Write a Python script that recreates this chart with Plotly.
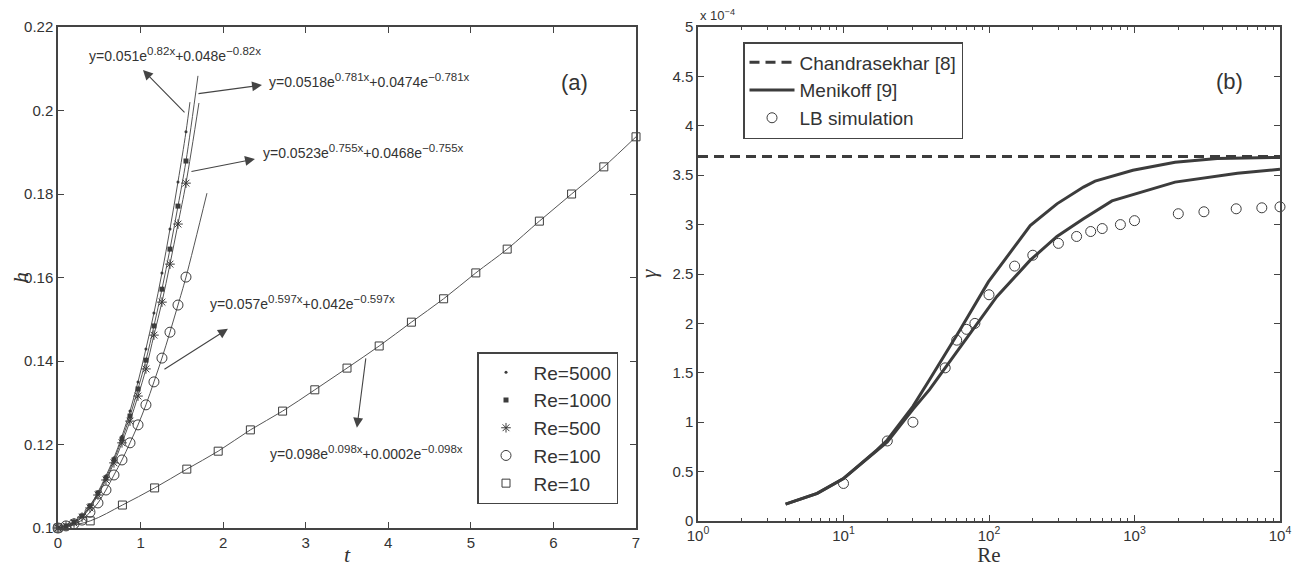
import plotly.graph_objects as go

# ---------------- Panel (a): h vs t ----------------
t_fast = [0, 0.097, 0.194, 0.291, 0.387, 0.484, 0.581, 0.678, 0.775, 0.872,
          0.969, 1.065, 1.162, 1.259, 1.356, 1.453, 1.55]
h_re5000 = [0.100, 0.1005, 0.1014, 0.1029, 0.1053, 0.1086, 0.1125, 0.1168, 0.1220,
            0.1280, 0.1350, 0.1429, 0.1515, 0.1611, 0.1716, 0.1829, 0.1949]
h_re1000 = [0.100, 0.1005, 0.1014, 0.1029, 0.1053, 0.1084, 0.1120, 0.1163, 0.1213,
            0.1268, 0.1333, 0.1402, 0.1484, 0.1572, 0.1668, 0.1771, 0.1879]
h_re500 = [0.100, 0.1005, 0.1012, 0.1026, 0.1048, 0.1079, 0.1115, 0.1156, 0.1204,
           0.1256, 0.1316, 0.1381, 0.1462, 0.1541, 0.1632, 0.1728, 0.1826]
h_re100 = [0.100, 0.1005, 0.1010, 0.1019, 0.1038, 0.1060, 0.1091, 0.1127, 0.1163,
           0.1204, 0.1247, 0.1295, 0.1350, 0.1407, 0.1469, 0.1534, 0.1601]
t_re10 = [0, 0.39, 0.78, 1.17, 1.56, 1.94, 2.33, 2.72, 3.11, 3.5, 3.89, 4.28,
          4.67, 5.06, 5.44, 5.83, 6.22, 6.61, 7.0]
h_re10 = [0.100, 0.1017, 0.1055, 0.1096, 0.1141, 0.1184, 0.1235, 0.1280, 0.1331,
          0.1383, 0.1436, 0.1493, 0.1549, 0.1611, 0.1668, 0.1735, 0.1800, 0.1865, 0.1937]

# end points of the fitted curves (Re=5000, 1000, 500, 100)
fit_end_t = [1.598, 1.695, 1.707, 1.804]
fit_end_h = [0.2020, 0.2083, 0.2018, 0.1802]

re_labels = ["Re=5000", "Re=1000", "Re=500", "Re=100", "Re=10"]

# fitted equations: (coef+, exponent, coef-)
eq_a = ["0.051", "0.0518", "0.0523", "0.057", "0.098"]
eq_k = ["0.82", "0.781", "0.755", "0.597", "0.098"]
eq_b = ["0.048", "0.0474", "0.0468", "0.042", "0.0002"]
eq_t = [1.416, 3.777, 3.705, 2.966, 3.74]
eq_h = [0.2133, 0.2073, 0.1903, 0.1539, 0.1182]
# arrows: tail (t,h) -> head (t,h)
arr_tail_t = [1.55, 1.683, 1.598, 1.271, 3.73]
arr_tail_h = [0.1992, 0.2040, 0.1853, 0.1378, 0.1410]
arr_head_t = [1.029, 2.47, 2.385, 2.058, 3.62]
arr_head_h = [0.2097, 0.2061, 0.1884, 0.1477, 0.1240]

# ---------------- Panel (b): gamma vs Re ----------------
re_lb = [10, 20, 30, 50, 60, 70, 80, 100, 150, 200, 300, 400, 500, 600, 800,
         1000, 2000, 3000, 5000, 7500, 10000]
gamma_lb = [0.38, 0.81, 1.0, 1.55, 1.83, 1.94, 2.0, 2.29, 2.58, 2.69, 2.81, 2.88,
            2.93, 2.96, 3.0, 3.04, 3.11, 3.13, 3.16, 3.17, 3.18]
men_up_re = [4, 6.6, 10, 17, 20, 30, 39, 63, 99, 192, 293, 446, 536, 975, 1900, 3700, 10000]
men_up_g = [0.17, 0.28, 0.43, 0.72, 0.82, 1.16, 1.43, 1.93, 2.42, 2.99, 3.21, 3.38,
            3.44, 3.55, 3.63, 3.67, 3.68]
men_lo_re = [4, 6.6, 10, 17, 20, 30, 39, 50, 80, 113, 192, 293, 446, 700, 1900, 5100, 10000]
men_lo_g = [0.17, 0.28, 0.43, 0.72, 0.80, 1.13, 1.33, 1.55, 1.97, 2.27, 2.64, 2.88,
            3.06, 3.24, 3.43, 3.52, 3.56]
chand_re = [1, 10000]
chand_g = [3.69, 3.69]

DARK = "#3c3c3c"
LINE = "#555555"
SANS = "Liberation Sans, Arial, sans-serif"
SERIF = "Liberation Serif, Times New Roman, serif"

# page has an 8px body margin: figure is sized to fit the 1301x575 window
OFF = 8
W = 1301 - 2 * OFF
H = 575 - 2 * OFF


def px(X):
    return (X - OFF) / W


def py(Y):
    return 1 - (Y - OFF) / H


def sup(s):
    return '<sup><span style="font-size:11.5px">' + s + "</span></sup>"


fig = go.Figure()

# fitted lines (panel a)
fast_series = [h_re5000, h_re1000, h_re500, h_re100]
for i, hs in enumerate(fast_series):
    fig.add_trace(go.Scatter(x=t_fast + [fit_end_t[i]], y=hs + [fit_end_h[i]],
                             mode="lines", line=dict(color=LINE, width=1, shape="spline"),
                             showlegend=False, hoverinfo="skip", xaxis="x", yaxis="y"))
fig.add_trace(go.Scatter(x=t_re10, y=h_re10, mode="lines",
                         line=dict(color=LINE, width=1, shape="spline"),
                         showlegend=False, hoverinfo="skip", xaxis="x", yaxis="y"))

marker_styles = [
    dict(symbol="circle", size=3, color=DARK),
    dict(symbol="square", size=5, color=DARK),
    dict(symbol="asterisk-open", size=8, color=DARK, line=dict(color=DARK, width=1)),
    dict(symbol="circle-open", size=10, color=DARK, line=dict(color=DARK, width=1)),
    dict(symbol="square-open", size=8, color=DARK, line=dict(color=DARK, width=1)),
]
xs_a = [t_fast, t_fast, t_fast, t_fast, t_re10]
ys_a = [h_re5000, h_re1000, h_re500, h_re100, h_re10]
for i in range(5):
    fig.add_trace(go.Scatter(x=xs_a[i], y=ys_a[i], mode="markers", name=re_labels[i],
                             marker=marker_styles[i], xaxis="x", yaxis="y",
                             legend="legend", cliponaxis=False))

# panel b
fig.add_trace(go.Scatter(x=chand_re, y=chand_g, mode="lines", name="Chandrasekhar [8]",
                         line=dict(color=DARK, width=3, dash="10px,6px"),
                         xaxis="x2", yaxis="y2", legend="legend2"))
fig.add_trace(go.Scatter(x=men_up_re, y=men_up_g, mode="lines", name="Menikoff [9]",
                         line=dict(color=DARK, width=3),
                         xaxis="x2", yaxis="y2", legend="legend2"))
fig.add_trace(go.Scatter(x=men_lo_re, y=men_lo_g, mode="lines", name="Menikoff [9]",
                         line=dict(color=DARK, width=3), showlegend=False,
                         xaxis="x2", yaxis="y2", legend="legend2"))
fig.add_trace(go.Scatter(x=re_lb, y=gamma_lb, mode="markers", name="LB simulation",
                         marker=dict(symbol="circle-open", size=10, color=DARK,
                                     line=dict(color=DARK, width=1)),
                         xaxis="x2", yaxis="y2", legend="legend2", cliponaxis=False))

axis_common = dict(showline=True, linecolor="#444", linewidth=1.5, mirror="ticks",
                   ticks="inside", ticklen=6, tickcolor="#444", showgrid=False,
                   zeroline=False, automargin=False,
                   tickfont=dict(family=SANS, size=15, color="#333"))

annotations = []
for i in range(5):
    text = ("y=" + eq_a[i] + "e" + sup(eq_k[i] + "x") + "+" + eq_b[i] + "e"
            + sup("\u2212" + eq_k[i] + "x"))
    annotations.append(dict(x=eq_t[i], y=eq_h[i], xref="x", yref="y", text=text,
                            showarrow=False, font=dict(family=SANS, size=14, color="#333")))
for i in range(5):
    annotations.append(dict(x=arr_head_t[i], y=arr_head_h[i], ax=arr_tail_t[i], ay=arr_tail_h[i],
                            xref="x", yref="y", axref="x", ayref="y", text="",
                            showarrow=True, arrowhead=2, arrowsize=1.8, arrowwidth=1.1,
                            arrowcolor="#444"))
annotations.append(dict(x=6.26, y=0.2068, xref="x", yref="y", text="(a)", showarrow=False,
                        font=dict(family=SANS, size=22, color="#333")))
annotations.append(dict(x=3.65, y=4.45, xref="x2", yref="y2", text="(b)", showarrow=False,
                        font=dict(family=SANS, size=22, color="#333")))
annotations.append(dict(x=px(698), y=py(15), xref="paper", yref="paper",
                        xanchor="left", yanchor="middle", text="x 10<sup>\u22124</sup>",
                        showarrow=False, font=dict(family=SANS, size=13, color="#333")))

fig.update_layout(
    width=W, height=H,
    margin=dict(l=0, r=0, t=0, b=0, autoexpand=False),
    paper_bgcolor="white", plot_bgcolor="white",
    xaxis=dict(domain=[px(58), px(636)], range=[0, 7], tickvals=list(range(8)),
               anchor="y",
               title=dict(text="<i>t</i>", font=dict(family=SERIF, size=22, color="#333"),
                          standoff=2),
               **axis_common),
    yaxis=dict(domain=[py(528), py(27)], range=[0.1, 0.22],
               tickvals=[0.1, 0.12, 0.14, 0.16, 0.18, 0.2, 0.22],
               ticktext=["0.1", "0.12", "0.14", "0.16", "0.18", "0.2", "0.22"],
               anchor="x",
               title=dict(text="<i>h</i>", font=dict(family=SERIF, size=22, color="#333"),
                          standoff=10),
               **axis_common),
    xaxis2=dict(domain=[px(698), px(1280)], type="log", range=[0, 4],
                tickvals=[1, 10, 100, 1000, 10000],
                ticktext=["10<sup>0</sup>", "10<sup>1</sup>", "10<sup>2</sup>",
                          "10<sup>3</sup>", "10<sup>4</sup>"],
                minor=dict(ticks="inside", ticklen=3, tickcolor="#444", dtick="D1",
                           showgrid=False),
                anchor="y2",
                title=dict(text="Re", font=dict(family=SERIF, size=21, color="#333"),
                           standoff=2),
                **axis_common),
    yaxis2=dict(domain=[py(521), py(27)], range=[0, 5],
                tickvals=[0, 0.5, 1, 1.5, 2, 2.5, 3, 3.5, 4, 4.5, 5],
                ticktext=["0", "0.5", "1", "1.5", "2", "2.5", "3", "3.5", "4", "4.5", "5"],
                anchor="x2",
                title=dict(text="<i>\u03b3</i>", font=dict(family=SERIF, size=22, color="#333"),
                           standoff=10),
                **axis_common),
    legend=dict(x=px(477), y=py(352), xanchor="left", yanchor="top",
                bgcolor="white", bordercolor="#444", borderwidth=1.5,
                font=dict(family=SANS, size=19, color="#333"), itemwidth=45,
                tracegroupgap=0),
    legend2=dict(x=px(743), y=py(42), xanchor="left", yanchor="top",
                 bgcolor="white", bordercolor="#444", borderwidth=1.5,
                 font=dict(family=SANS, size=19, color="#333"), itemwidth=45,
                 tracegroupgap=0),
    annotations=annotations,
    showlegend=True,
)

fig.write_html("out.html")
